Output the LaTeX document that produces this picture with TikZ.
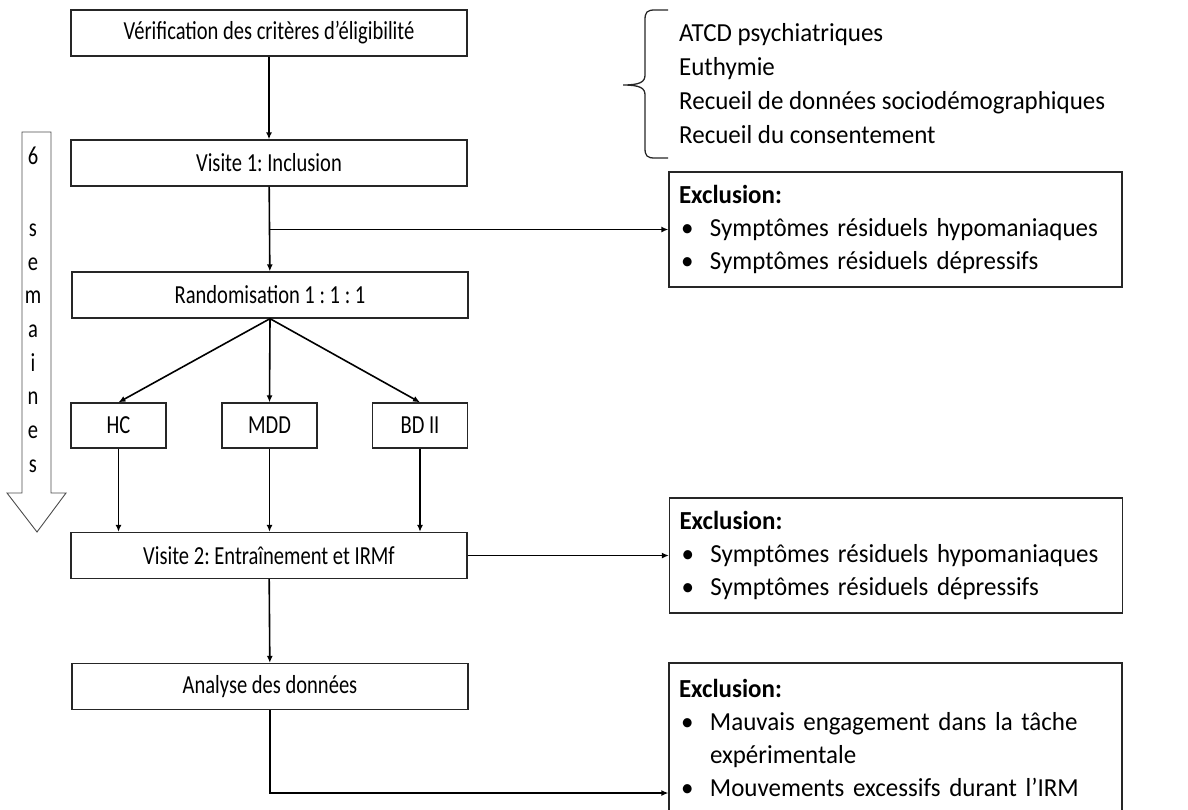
\documentclass[tikz,border=0pt]{standalone}
\usepackage{fontspec}
\setmainfont{Carlito}
\newfontfamily\boxfont{Carlito}[FakeStretch=0.79]
\newfontfamily\sidefont{Carlito}[FakeStretch=0.96]
\usetikzlibrary{arrows.meta}
\begin{document}
\frenchspacing
\begin{tikzpicture}[x=1pt,y=-1pt,
  font=\boxfont\fontsize{26}{34}\selectfont,
  box/.style={draw=black!85, line width=1.3pt, minimum width=396pt, minimum height=46pt, inner sep=0pt},
  sbox/.style={draw=black!85, line width=1.3pt, minimum width=95pt, minimum height=45pt, inner sep=0pt},
  exbox/.style={draw=black!85, line width=1.3pt, text width=433pt, inner xsep=10pt, inner ysep=0pt, align=left, minimum height=115pt, font=\sidefont\fontsize{26}{33}\selectfont},
  arr/.style={draw=black, line width=1.6pt, -{Latex[length=7pt,width=6pt]}}]
\useasboundingbox (0,0) rectangle (1188,809);
\clip (0,0) rectangle (1188,809);
\newcommand{\bul}{\makebox[31pt][l]{\hspace{2pt}•}}
% main boxes
\node[box] (ver) at (269,33) {Vérification des critères d’éligibilité};
\node[box] (vis1) at (269,163) {Visite 1: Inclusion};
\node[box] (rando) at (270,295) {Randomisation 1 : 1 : 1};
\node[sbox] (hc) at (118.5,425.5) {HC};
\node[sbox] (mdd) at (269.5,425.5) {MDD};
\node[sbox] (bd) at (420,425.5) {BD II};
\node[box] (vis2) at (269,555.5) {Visite 2: Entraînement et IRMf};
\node[box] (ana) at (270,686.5) {Analyse des données};
% criteria list
\node[anchor=west, align=left, inner sep=0pt, font=\sidefont\fontsize{26}{34}\selectfont] (crit) at (679,84)
  {ATCD psychiatriques\\Euthymie\\Recueil de données sociodémographiques\\Recueil du consentement};
\draw[black!85, line width=1.3pt] (668,10) -- (655,10) .. controls (647,10) and (645,12) .. (645,20) -- (645,75) .. controls (645,82) and (640,85) .. (623,85) .. controls (640,85) and (645,88) .. (645,95) -- (645,148) .. controls (645,156) and (647,158) .. (655,158) -- (668,158);
% exclusion boxes
\node[exbox] (ex1) at (895.5,229.5) {\textbf{Exclusion:}\\\bul Symptômes résiduels hypomaniaques\\\bul Symptômes résiduels dépressifs};
\node[exbox] (ex2) at (896,555.5) {\textbf{Exclusion:}\\\bul Symptômes résiduels hypomaniaques\\\bul Symptômes résiduels dépressifs};
\node[exbox, minimum height=149pt] (ex3) at (895.5,737.5) {\textbf{Exclusion:}\\\bul Mauvais engagement dans la tâche\\\hspace*{31pt}expérimentale\\\bul Mouvements excessifs durant l’IRM};
% six weeks arrow
\draw[black!70, line width=0.9pt] (22,132) -- (51,132) -- (51,493) -- (66,493) -- (37,532) -- (7,493) -- (22,493) -- cycle;
\node[align=center, inner sep=0pt, font=\boxfont\fontsize{26}{33.7}\selectfont, anchor=north] (sem) at (33,147) {6\\[38pt]s\\e\\m\\a\\i\\n\\e\\s};
% connectors
\draw[arr] (ver) -- (vis1);
\draw[arr] (vis1) -- (rando);
\draw[arr] (vis1.south |- ex1.west) -- (ex1.west);
\draw[arr] (rando.south) -- (hc.north);
\draw[arr] (rando.south) -- (mdd.north);
\draw[arr] (rando.south) -- (bd.north);
\draw[arr] (hc.south) -- (hc.south |- vis2.north);
\draw[arr] (mdd.south) -- (mdd.south |- vis2.north);
\draw[arr] (bd.south) -- (bd.south |- vis2.north);
\draw[arr] (vis2.east) -- (ex2.west);
\draw[arr] (vis2) -- (ana);
\draw[arr] (ana.south) |- (ex3.west |- 0,793);
\end{tikzpicture}
\end{document}
